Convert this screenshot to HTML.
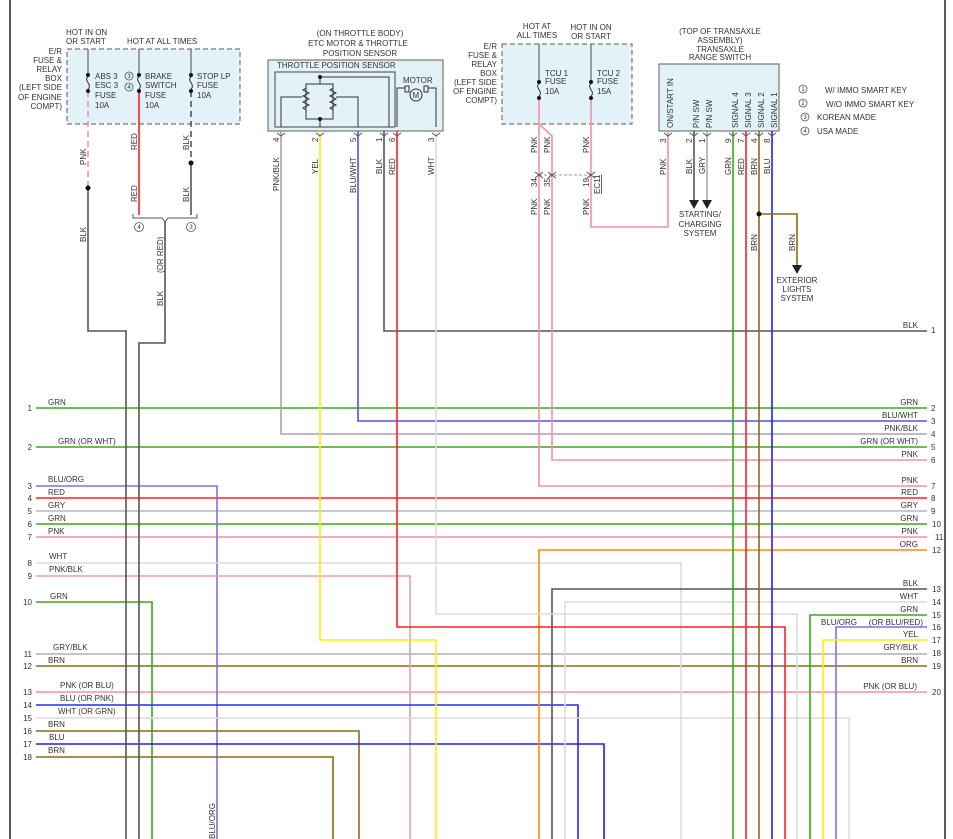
<!DOCTYPE html>
<html><head><meta charset="utf-8"><style>
html,body{margin:0;padding:0;background:#fff}
svg{display:block}
text{font-family:"Liberation Sans",sans-serif;font-size:8px;fill:#333}
</style></head><body>
<svg width="953" height="839" viewBox="0 0 953 839" xmlns="http://www.w3.org/2000/svg">
<defs>
<marker id="ar" viewBox="0 0 10 10" refX="5" refY="10" markerWidth="8" markerHeight="8" orient="auto-start-reverse"><path d="M0,0 L10,0 L5,10 z" fill="#222"/></marker>
</defs>
<!-- borders -->
<line x1="10" y1="0" x2="10" y2="839" stroke="#222" stroke-width="1.5"/>
<line x1="945" y1="0" x2="945" y2="839" stroke="#222" stroke-width="1.5"/>

<!-- boxes -->
<rect x="67" y="49" width="173" height="75" fill="#e3f1f8" stroke="#777" stroke-dasharray="5,3" stroke-width="1.2"/>
<rect x="502" y="44" width="130" height="80" fill="#e3f1f8" stroke="#777" stroke-dasharray="5,3" stroke-width="1.2"/>
<rect x="268" y="60" width="175" height="71" fill="#e3f1f8" stroke="#777" stroke-width="1.2"/>
<rect x="275" y="72" width="120" height="55" fill="none" stroke="#444" stroke-width="1"/>
<rect x="659" y="64" width="120" height="67" fill="#e3f1f8" stroke="#777" stroke-width="1.2"/>

<g fill="none" stroke-width="1.6">
<!-- horizontals full -->
<path d="M36 408H927" stroke="#3aa81a"/>
<path d="M36 447H927" stroke="#3aa81a"/>
<path d="M36 498H927" stroke="#ff2020"/>
<path d="M36 511H927" stroke="#b8b8b8"/>
<path d="M36 524H927" stroke="#3aa81a"/>
<path d="M36 537H927" stroke="#f490a4"/>
<path d="M36 654H927" stroke="#b0b0b0"/>
<path d="M36 666H927" stroke="#8a6a10"/>
<path d="M36 692H927" stroke="#f490a4"/>
<!-- left-origin drops -->
<path d="M36 486H217V839" stroke="#8070e8"/>
<path d="M36 563H681V839" stroke="#dcdcdc"/>
<path d="M36 576H410V839" stroke="#e8a0ac"/>
<path d="M36 602H152V839" stroke="#3aa81a"/>
<path d="M36 705H578V839" stroke="#2828ff"/>
<path d="M36 718H849V839" stroke="#dcdcdc"/>
<path d="M36 731H359V839" stroke="#8a6a10"/>
<path d="M36 744H604V839" stroke="#2020e8"/>
<path d="M36 757H333V839" stroke="#8a6a10"/>
<!-- right-origin drops -->
<path d="M927 550H539V839" stroke="#ff8c00"/>
<path d="M927 589H552V839" stroke="#555"/>
<path d="M927 602H565V839" stroke="#dcdcdc"/>
<path d="M927 615H810V839" stroke="#3aa81a"/>
<path d="M927 627H836V839" stroke="#8070e8"/>
<path d="M927 640H823V839" stroke="#ffee00"/>
<!-- left fuse wires -->
<path d="M88 49V75M139 49V75M191 49V75M539 44V82M591 44V82" stroke="#666" stroke-width="1.2"/>
<path d="M88 91V188" stroke="#f490a4" stroke-dasharray="6,4"/>
<path d="M88 188V331H126V839" stroke="#555"/>
<path d="M139 91V215" stroke="#ff2020"/>
<path d="M191 91V163" stroke="#555" stroke-dasharray="6,4"/>
<path d="M191 163V215" stroke="#555"/>
<path d="M165 222V343H139V839" stroke="#555"/>
<!-- throttle wires -->
<path d="M281 131V434H927" stroke="#b0a0a8"/>
<path d="M320 131V640H436V839" stroke="#ffee00"/>
<path d="M358 131V421H927" stroke="#5050f0"/>
<path d="M384 131V331H927" stroke="#555"/>
<path d="M397 131V627H785V839" stroke="#ff2020"/>
<path d="M436 131V614H797V839" stroke="#dcdcdc"/>
<!-- TCU -->
<path d="M539 98V486H927" stroke="#f490a4"/>
<path d="M539 124L552 136V460H927" stroke="#f490a4"/>
<path d="M591 98V227H668V131" stroke="#f490a4"/>
<!-- transaxle -->
<path d="M694 131V200" stroke="#555"/>
<path d="M707 131V200" stroke="#aaa"/>
<path d="M733 131V839" stroke="#3aa81a"/>
<path d="M746 131V839" stroke="#ff2020"/>
<path d="M759 131V839" stroke="#8a6a10"/>
<path d="M772 131V839" stroke="#2020ff"/>
<path d="M759 214H797V266" stroke="#8a6a10"/>
</g>
<path d="M689 200h10l-5 9z M702 200h10l-5 9z M792 265h10l-5 9z" fill="#222"/>
<line x1="539" y1="175" x2="591" y2="175" stroke="#999" stroke-dasharray="3,2"/>
<circle cx="759" cy="214" r="2.5" fill="#111"/>
<circle cx="88" cy="188" r="2.5" fill="#111"/>
<circle cx="191" cy="163" r="2.5" fill="#111"/>
<!-- brace -->
<path d="M133 214V218H162L165 222L168 218H197V214" fill="none" stroke="#555"/>
<!-- fuses -->
<g fill="#111"><circle cx="88" cy="75" r="2"/><circle cx="88" cy="91" r="2"/><circle cx="139" cy="75" r="2"/><circle cx="139" cy="91" r="2"/><circle cx="191" cy="75" r="2"/><circle cx="191" cy="91" r="2"/><circle cx="539" cy="82" r="2"/><circle cx="539" cy="98" r="2"/><circle cx="591" cy="82" r="2"/><circle cx="591" cy="98" r="2"/></g>
<g fill="none" stroke="#333"><path d="M88 77c-5 3 5 8 0 12M139 77c-5 3 5 8 0 12M191 77c-5 3 5 8 0 12M539 84c-5 3 5 8 0 12M591 84c-5 3 5 8 0 12"/>
<!-- TPS internals -->
<path d="M281 127V97H302M320 127V119M306 84H333V119H306ZM320 84V77H389V127M358 127V97H336"/>
<path d="M306 88l-3 2 6 3-6 3 6 3-6 3 6 3-6 3 3 2M333 88l-3 2 6 3-6 3 6 3-6 3 6 3-6 3 3 2"/>
<path d="M397 127V88H405M428 88H436V127"/><rect x="405" y="86" width="4" height="6"/><rect x="424" y="86" width="4" height="6"/>
</g>
<circle cx="416" cy="95" r="6" fill="#e3f1f8" stroke="#333"/><text x="412.5" y="98">M</text>
<g fill="#111"><circle cx="320" cy="77" r="2"/><circle cx="320" cy="119" r="2"/></g>

<!-- connector pins -->
<g fill="none" stroke="#555" stroke-width="1"><path d="M277 133l4 3 4-3M316 133l4 3 4-3M354 133l4 3 4-3M380 133l4 3 4-3M393 133l4 3 4-3M432 133l4 3 4-3M664 133l4 3 4-3M690 133l4 3 4-3M703 133l4 3 4-3M729 133l4 3 4-3M742 133l4 3 4-3M755 133l4 3 4-3M768 133l4 3 4-3M535 172l4 3 4-3M535 178l4-3 4 3M548 172l4 3 4-3M548 178l4-3 4 3M587 172l4 3 4-3M587 178l4-3 4 3"/></g>

<!-- header texts -->
<text x="66" y="35">HOT IN ON</text><text x="66" y="44">OR START</text>
<text x="127" y="44">HOT AT ALL TIMES</text>
<g text-anchor="end"><text x="62" y="54">E/R</text><text x="62" y="63">FUSE &amp;</text><text x="62" y="72">RELAY</text><text x="62" y="81">BOX</text><text x="62" y="90">(LEFT SIDE</text><text x="62" y="100">OF ENGINE</text><text x="62" y="109">COMPT)</text>
<text x="497" y="49">E/R</text><text x="497" y="58">FUSE &amp;</text><text x="497" y="67">RELAY</text><text x="497" y="76">BOX</text><text x="497" y="85">(LEFT SIDE</text><text x="497" y="94">OF ENGINE</text><text x="497" y="103">COMPT)</text></g>
<text x="95" y="79">ABS 3</text><text x="95" y="88">ESC 3</text><text x="95" y="98">FUSE</text><text x="95" y="108">10A</text>
<text x="145" y="79">BRAKE</text><text x="145" y="88">SWITCH</text><text x="145" y="98">FUSE</text><text x="145" y="108">10A</text>
<text x="197" y="79">STOP LP</text><text x="197" y="88">FUSE</text><text x="197" y="98">10A</text>
<g fill="none" stroke="#555" stroke-width="0.8"><circle cx="129" cy="76" r="4"/><circle cx="129" cy="87" r="4"/><circle cx="139" cy="227" r="4.5"/><circle cx="191" cy="227" r="4.5"/>
<circle cx="803" cy="89" r="4"/><circle cx="803" cy="103" r="4"/><circle cx="805" cy="117" r="4"/><circle cx="805" cy="131" r="4"/></g>
<g font-size="6" text-anchor="middle"><text x="129" y="78" style="font-size:6px">3</text><text x="129" y="89" style="font-size:6px">4</text><text x="139" y="229" style="font-size:6px">4</text><text x="191" y="229" style="font-size:6px">3</text>
<text x="803" y="91" style="font-size:6px">1</text><text x="803" y="105" style="font-size:6px">2</text><text x="805" y="119" style="font-size:6px">3</text><text x="805" y="133" style="font-size:6px">4</text></g>
<text x="825" y="93">W/ IMMO SMART KEY</text><text x="826" y="107">W/O IMMO SMART KEY</text><text x="817" y="120">KOREAN MADE</text><text x="817" y="134">USA MADE</text>
<g text-anchor="middle"><text x="360" y="36">(ON THROTTLE BODY)</text><text x="358" y="46">ETC MOTOR &amp; THROTTLE</text><text x="360" y="56">POSITION SENSOR</text>
<text x="537" y="29">HOT AT</text><text x="537" y="38">ALL TIMES</text><text x="591" y="30">HOT IN ON</text><text x="591" y="39">OR START</text>
<text x="720" y="34">(TOP OF TRANSAXLE</text><text x="720" y="43">ASSEMBLY)</text><text x="720" y="52">TRANSAXLE</text><text x="720" y="60">RANGE SWITCH</text>
<text x="700" y="217">STARTING/</text><text x="700" y="227">CHARGING</text><text x="700" y="236">SYSTEM</text>
<text x="797" y="283">EXTERIOR</text><text x="797" y="292">LIGHTS</text><text x="797" y="301">SYSTEM</text></g>
<text x="277" y="68">THROTTLE POSITION SENSOR</text><text x="403" y="83">MOTOR</text>
<text x="545" y="76">TCU 1</text><text x="545" y="84">FUSE</text><text x="545" y="94">10A</text>
<text x="597" y="76">TCU 2</text><text x="597" y="84">FUSE</text><text x="597" y="94">15A</text>

<!-- vertical labels -->
<g>
<text transform="translate(86,165) rotate(-90)">PNK</text>
<text transform="translate(136,130) rotate(-90)" style="display:none"></text>
<text transform="translate(137,150) rotate(-90)">RED</text>
<text transform="translate(137,202) rotate(-90)">RED</text>
<text transform="translate(189,150) rotate(-90)">BLK</text>
<text transform="translate(189,202) rotate(-90)">BLK</text>
<text transform="translate(86,242) rotate(-90)">BLK</text>
<text transform="translate(163,273) rotate(-90)">(OR RED)</text>
<text transform="translate(163,306) rotate(-90)">BLK</text>
<text transform="translate(279,142) rotate(-90)">4</text><text transform="translate(318,142) rotate(-90)">2</text><text transform="translate(356,142) rotate(-90)">5</text><text transform="translate(382,142) rotate(-90)">1</text><text transform="translate(395,142) rotate(-90)">6</text><text transform="translate(434,142) rotate(-90)">3</text>
<text transform="translate(279,191) rotate(-90)">PNK/BLK</text>
<text transform="translate(318,174) rotate(-90)">YEL</text>
<text transform="translate(356,193) rotate(-90)">BLU/WHT</text>
<text transform="translate(382,174) rotate(-90)">BLK</text>
<text transform="translate(395,175) rotate(-90)">RED</text>
<text transform="translate(434,175) rotate(-90)">WHT</text>
<text transform="translate(537,153) rotate(-90)">PNK</text><text transform="translate(550,153) rotate(-90)">PNK</text><text transform="translate(589,153) rotate(-90)">PNK</text>
<text transform="translate(537,187) rotate(-90)">34</text><text transform="translate(550,187) rotate(-90)">35</text><text transform="translate(589,187) rotate(-90)">19</text>
<text transform="translate(600,194) rotate(-90)" style="text-decoration:underline">EC11</text>
<text transform="translate(537,215) rotate(-90)">PNK</text><text transform="translate(550,215) rotate(-90)">PNK</text><text transform="translate(589,215) rotate(-90)">PNK</text>
<text transform="translate(666,175) rotate(-90)">PNK</text>
<text transform="translate(692,174) rotate(-90)">BLK</text><text transform="translate(705,174) rotate(-90)">GRY</text>
<text transform="translate(731,175) rotate(-90)">GRN</text><text transform="translate(744,175) rotate(-90)">RED</text><text transform="translate(757,175) rotate(-90)">BRN</text><text transform="translate(770,174) rotate(-90)">BLU</text>
<text transform="translate(757,251) rotate(-90)">BRN</text><text transform="translate(795,251) rotate(-90)">BRN</text>
<text transform="translate(666,143) rotate(-90)">3</text><text transform="translate(692,143) rotate(-90)">2</text><text transform="translate(705,143) rotate(-90)">1</text><text transform="translate(731,143) rotate(-90)">9</text><text transform="translate(744,143) rotate(-90)">7</text><text transform="translate(757,143) rotate(-90)">4</text><text transform="translate(770,143) rotate(-90)">8</text>
<text transform="translate(673,128) rotate(-90)">ON/START IN</text>
<text transform="translate(699,128) rotate(-90)">P/N SW</text><text transform="translate(712,128) rotate(-90)">P/N SW</text>
<text transform="translate(738,128) rotate(-90)">SIGNAL 4</text><text transform="translate(751,128) rotate(-90)">SIGNAL 3</text><text transform="translate(764,128) rotate(-90)">SIGNAL 2</text><text transform="translate(777,128) rotate(-90)">SIGNAL 1</text>
<text transform="translate(215,839) rotate(-90)">BLU/ORG</text>
</g>

<!-- left labels -->
<g text-anchor="end"><text x="32" y="411">1</text><text x="32" y="450">2</text><text x="32" y="489">3</text><text x="32" y="501">4</text><text x="32" y="514">5</text><text x="32" y="527">6</text><text x="32" y="540">7</text><text x="32" y="566">8</text><text x="32" y="579">9</text><text x="32" y="605">10</text><text x="32" y="657">11</text><text x="32" y="669">12</text><text x="32" y="695">13</text><text x="32" y="708">14</text><text x="32" y="721">15</text><text x="32" y="734">16</text><text x="32" y="747">17</text><text x="32" y="760">18</text></g>
<text x="48" y="405">GRN</text><text x="58" y="444">GRN (OR WHT)</text><text x="48" y="482">BLU/ORG</text><text x="48" y="495">RED</text><text x="48" y="508">GRY</text><text x="48" y="521">GRN</text><text x="48" y="534">PNK</text><text x="49" y="559">WHT</text><text x="49" y="572">PNK/BLK</text><text x="50" y="599">GRN</text><text x="53" y="650">GRY/BLK</text><text x="48" y="663">BRN</text><text x="60" y="688">PNK (OR BLU)</text><text x="60" y="701">BLU (OR PNK)</text><text x="58" y="714">WHT (OR GRN)</text><text x="48" y="727">BRN</text><text x="49" y="740">BLU</text><text x="48" y="753">BRN</text>
<!-- right labels -->
<g text-anchor="end"><text x="918" y="328">BLK</text><text x="918" y="405">GRN</text><text x="918" y="418">BLU/WHT</text><text x="918" y="431">PNK/BLK</text><text x="918" y="444">GRN (OR WHT)</text><text x="918" y="457">PNK</text><text x="918" y="483">PNK</text><text x="918" y="495">RED</text><text x="918" y="508">GRY</text><text x="918" y="521">GRN</text><text x="918" y="534">PNK</text><text x="918" y="547">ORG</text><text x="918" y="586">BLK</text><text x="918" y="599">WHT</text><text x="918" y="612">GRN</text><text x="857" y="625">BLU/ORG</text><text x="923" y="625">(OR BLU/RED)</text><text x="918" y="637">YEL</text><text x="918" y="650">GRY/BLK</text><text x="918" y="663">BRN</text><text x="917" y="689">PNK (OR BLU)</text></g>
<g><text x="931" y="333">1</text><text x="931" y="411">2</text><text x="931" y="424">3</text><text x="931" y="437">4</text><text x="931" y="450">5</text><text x="931" y="463">6</text><text x="931" y="489">7</text><text x="931" y="501">8</text><text x="931" y="514">9</text><text x="932" y="527">10</text><text x="935" y="540">11</text><text x="932" y="553">12</text><text x="932" y="592">13</text><text x="932" y="605">14</text><text x="932" y="618">15</text><text x="932" y="630">16</text><text x="932" y="643">17</text><text x="932" y="656">18</text><text x="932" y="669">19</text><text x="932" y="695">20</text></g>
</svg>
</body></html>
